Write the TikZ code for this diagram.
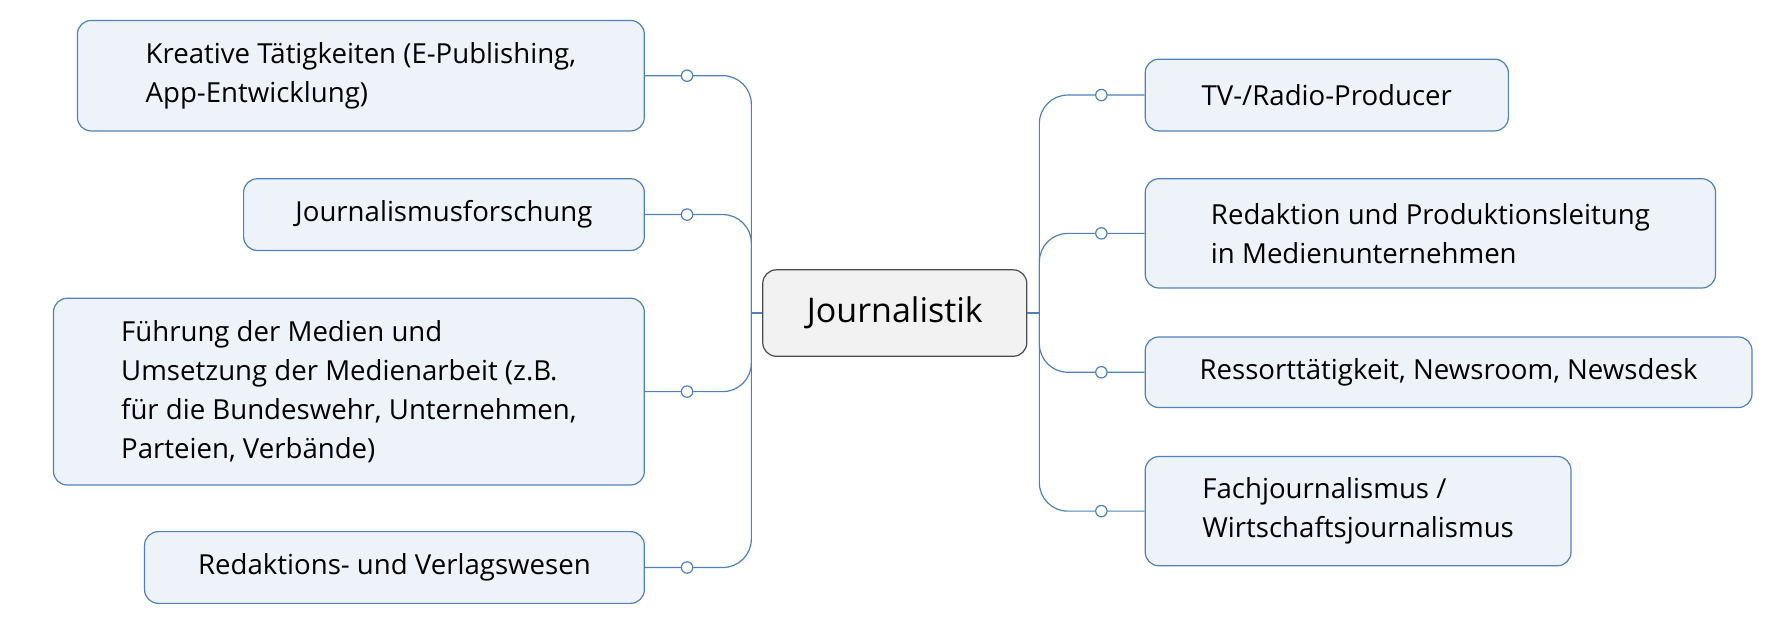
\documentclass[tikz,border=0pt]{standalone}
\usepackage{fontspec}
\setmainfont{Open Sans}
\usetikzlibrary{positioning, calc}
\definecolor{boxblue}{RGB}{79, 129, 189}
\definecolor{boxfill}{RGB}{238, 243, 250}
\definecolor{hubfill}{RGB}{242, 242, 242}

\begin{document}
\begin{tikzpicture}[
    x=0.02cm, y=-0.02cm,
    topic/.style 2 args={rectangle, rounded corners=0.24cm, draw=boxblue, fill=boxfill, line width=0.6pt,
        minimum width=#1*0.02cm, minimum height=#2*0.02cm, align=left, inner sep=2pt,
        font=\fontsize{13.8}{19.4}\selectfont},
    hub/.style={rectangle, rounded corners=0.24cm, draw=black!70, fill=hubfill, line width=0.6pt,
        minimum width=4.64cm, minimum height=1.52cm, font=\fontsize{17}{20}\selectfont},
    link/.style={draw=boxblue, line width=0.6pt, rounded corners=0.5cm},
    dot/.style={circle, draw=boxblue, fill=white, line width=0.6pt, inner sep=0pt, minimum size=0.2cm}
]
\path[use as bounding box] (0,0) rectangle (1568,564);

% Central topic
\node[hub] (hub) at (786,275) {Journalistik};
\coordinate (trunkL) at (660,275);
\coordinate (trunkR) at (913,275);

% Left branches
\node[topic={498}{97}] (kreativ) at (317,66.5) {Kreative Tätigkeiten (E-Publishing,\\App-Entwicklung)};
\node[topic={352}{63}] (forschung) at (390,188.5) {Journalismusforschung};
\node[topic={519}{164}] (fuehrung) at (306.5,344) {Führung der Medien und\\Umsetzung der Medienarbeit (z.B.\\für die Bundeswehr, Unternehmen,\\Parteien, Verbände)};
\node[topic={439}{63}] (verlag) at (346.5,498.5) {Redaktions- und Verlagswesen};

% Right branches
\node[topic={319}{63}] (producer) at (1165.5,83.5) {TV-/Radio-Producer};
\node[topic={501}{96}] (leitung) at (1256.5,205) {Redaktion und Produktionsleitung\\in Medienunternehmen};
\node[topic={533}{62}] (ressort) at (1272.5,327) {Ressorttätigkeit, Newsroom, Newsdesk};
\node[topic={374}{96}] (fach) at (1193,449) {Fachjournalismus /\\Wirtschaftsjournalismus};

% Connectors
\draw[link] (hub.west) -- (trunkL);
\draw[link] (hub.east) -- (trunkR);
\foreach \n in {kreativ, forschung, fuehrung, verlag} {
    \draw[link] (\n.east) -| (trunkL);
    \node[dot] at ($(\n.east)+(37,0)$) {};
}
\foreach \n in {producer, leitung, ressort, fach} {
    \draw[link] (\n.west) -| (trunkR);
    \node[dot] at ($(\n.west)+(-38,0)$) {};
}

\end{tikzpicture}
\end{document}
